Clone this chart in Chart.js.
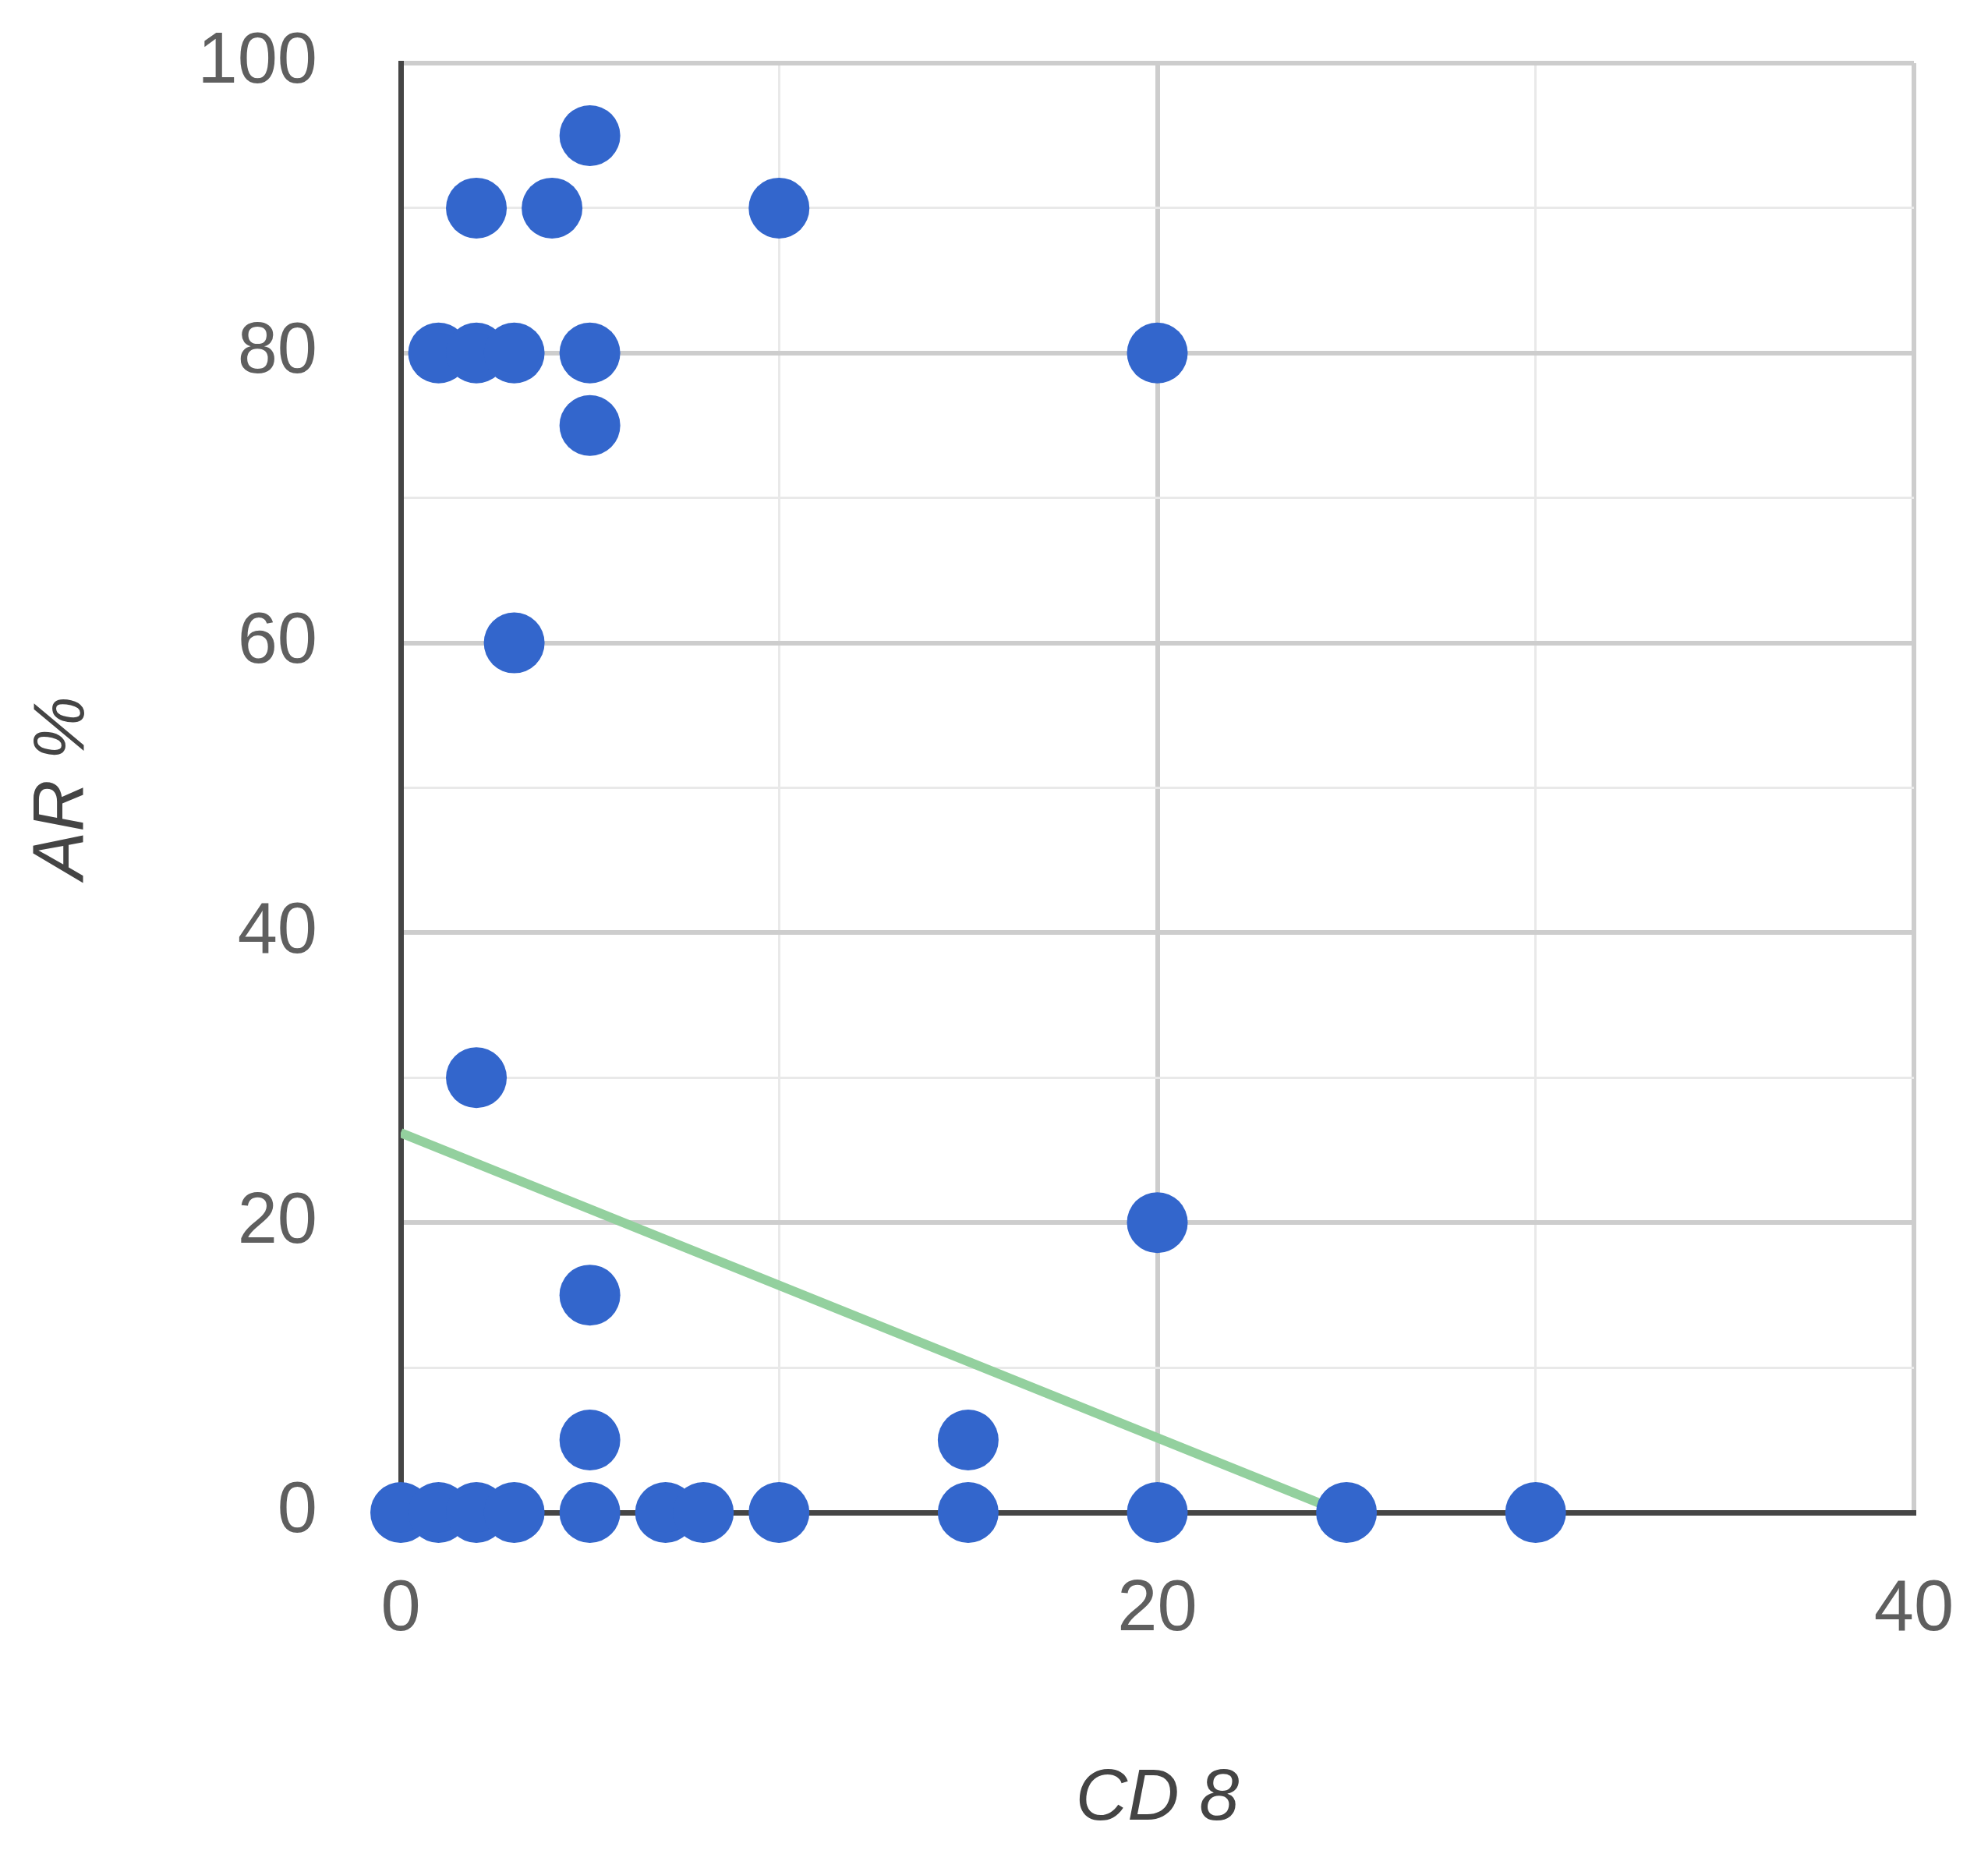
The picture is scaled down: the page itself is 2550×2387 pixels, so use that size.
<!DOCTYPE html>
<html lang="en">
  <head>
    <meta charset="UTF-8" />
    <title>AR % vs CD 8</title>
    <script src="https://cdn.jsdelivr.net/npm/chart.js@4.4.1/dist/chart.umd.min.js"></script>
    <style>
      html, body { margin: 0; padding: 0; background: #fff; }
      #wrap { width: 2550px; height: 2387px; }
    </style>
  </head>
  <body>
    <div id="wrap"><canvas id="myChart"></canvas></div>
    <script>
      // CD 8 values (x) and AR % values (y)
      const cd8 = [5, 2, 4, 10, 1, 2, 3, 5, 20, 5, 3, 2, 20, 5, 5, 15,
                   0, 1, 2, 3, 5, 7, 8, 10, 15, 20, 25, 30]
      const arPct = [95, 90, 90, 90, 80, 80, 80, 80, 80, 75, 60, 30, 20, 15, 5, 5,
                     0, 0, 0, 0, 0, 0, 0, 0, 0, 0, 0, 0]

      // linear trend line end points
      const trendX = [0, 24.9]
      const trendY = [26.2, 0]

      const xTickLabels = [0, 20, 40]
      const yTickLabels = [0, 20, 40, 60, 80, 100]

      const points = cd8.map((x, i) => ({ x: x, y: arPct[i] }))
      const trend = trendX.map((x, i) => ({ x: x, y: trendY[i] }))

      const tickFont = { family: "'Liberation Sans', Arial, sans-serif", size: 92 }
      const titleFont = { family: "'Liberation Sans', Arial, sans-serif", size: 92, style: "italic" }

      const gridColor = (ctx) => {
        const v = ctx.tick ? ctx.tick.value : 0
        return v % 20 === 0 ? "#cdcdcd" : "#e9e9e9"
      }
      const gridWidth = (ctx) => {
        const v = ctx.tick ? ctx.tick.value : 0
        return v % 20 === 0 ? 6 : 3
      }

      const ctx = document.getElementById("myChart").getContext("2d")
      const myChart = new Chart(ctx, {
        type: "scatter",
        data: {
          datasets: [
            {
              label: "AR %",
              data: points,
              backgroundColor: "#3366cc",
              borderWidth: 0,
              pointRadius: 39,
              pointHoverRadius: 39,
              clip: false,
            },
            {
              type: "line",
              label: "Trend",
              data: trend,
              borderColor: "#93d09e",
              borderWidth: 12,
              pointRadius: 0,
              fill: false,
            },
          ],
        },
        options: {
          responsive: true,
          maintainAspectRatio: false,
          animation: false,
          layout: { autoPadding: false, padding: { top: 81, right: 95, left: 0, bottom: 0 } },
          plugins: {
            legend: { display: false },
            tooltip: { enabled: false },
          },
          scales: {
            x: {
              type: "linear",
              min: 0,
              max: 40,
              afterFit: (scale) => {
                scale.height = 447
                scale.paddingLeft = 0
                scale.paddingRight = 0
              },
              ticks: {
                stepSize: 10,
                padding: 70,
                color: "#5f5f5f",
                font: tickFont,
                maxRotation: 0,
                callback: (v) => (xTickLabels.includes(v) ? v : ""),
              },
              grid: { drawTicks: false, color: gridColor, lineWidth: gridWidth },
              border: { display: true, color: "#454545", width: 7 },
              title: {
                display: true,
                text: "CD 8",
                color: "#444444",
                font: titleFont,
                padding: { top: 0, bottom: 23 },
              },
            },
            y: {
              type: "linear",
              min: 0,
              max: 100,
              afterFit: (scale) => {
                scale.width = 514
                scale.paddingTop = 0
                scale.paddingBottom = 0
              },
              ticks: {
                stepSize: 10,
                padding: 107,
                color: "#5f5f5f",
                font: tickFont,
                callback: (v) => (yTickLabels.includes(v) ? v : ""),
              },
              grid: { drawTicks: false, color: gridColor, lineWidth: gridWidth },
              border: { display: true, color: "#454545", width: 7 },
              title: {
                display: true,
                text: "AR %",
                color: "#444444",
                font: titleFont,
                padding: { top: 26, bottom: 0 },
              },
            },
          },
        },
      })
    </script>
  </body>
</html>
